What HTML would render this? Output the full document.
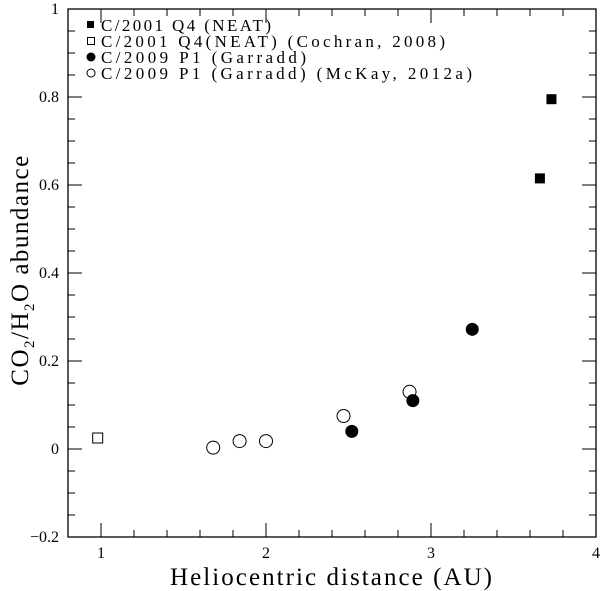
<!DOCTYPE html>
<html><head><meta charset="utf-8"><style>
body{margin:0;background:#fff;}
svg{display:block;font-family:"Liberation Serif",serif;}
</style></head><body>
<svg id="chart" width="600" height="591">
<rect x="68" y="9" width="528" height="528" fill="none" stroke="#000" stroke-width="1.3"/>
<g id="ticks"></g>
<g id="marks"></g>
<g font-size="17">
<rect x="87" y="21" width="7" height="7" fill="#000"/>
<text x="101" y="31" textLength="170" lengthAdjust="spacing">C/2001 Q4 (NEAT)</text>
<rect x="87.5" y="37.5" width="7" height="7" fill="none" stroke="#000"/>
<text x="101" y="47" textLength="344" lengthAdjust="spacing">C/2001 Q4(NEAT) (Cochran, 2008)</text>
<circle cx="91" cy="57" r="4.5" fill="#000"/>
<text x="101" y="63" textLength="205" lengthAdjust="spacing">C/2009 P1 (Garradd)</text>
<circle cx="91" cy="73" r="4" fill="none" stroke="#000"/>
<text x="101" y="79" textLength="371" lengthAdjust="spacing">C/2009 P1 (Garradd) (McKay, 2012a)</text>
</g>
<text x="170" y="585" font-size="25" textLength="322" lengthAdjust="spacing">Heliocentric distance (AU)</text>
<text transform="translate(28,270) rotate(-90)" font-size="25" text-anchor="middle" letter-spacing="1.5">CO<tspan font-size="15" dy="6">2</tspan><tspan dy="-6">/H</tspan><tspan font-size="15" dy="6">2</tspan><tspan dy="-6">O abundance</tspan></text>
</svg>
<script>
const neatX=[3.66,3.73], neatY=[0.615,0.795];
const cochranX=[0.98], cochranY=[0.025];
const garraddX=[2.52,2.89,3.25], garraddY=[0.04,0.11,0.272];
const mckayX=[1.68,1.84,2.0,2.47,2.87], mckayY=[0.003,0.018,0.018,0.075,0.13];
const xTicks=[1,2,3,4], xTickLabels=["1","2","3","4"];
const yTicks=[-0.2,0,0.2,0.4,0.6,0.8,1], yTickLabels=["\u22120.2","0","0.2","0.4","0.6","0.8","1"];
const NS="http://www.w3.org/2000/svg";
const X0=0.8,X1=4,Y0=-0.2,Y1=1,L=68,R=596,T=9,B=537;
const sx=v=>L+(v-X0)/(X1-X0)*(R-L);
const sy=v=>B-(v-Y0)/(Y1-Y0)*(B-T);
function mk(tag,a,parent){const e=document.createElementNS(NS,tag);for(const k in a)e.setAttribute(k,a[k]);parent.appendChild(e);return e;}
const tg=document.getElementById('ticks'), mg=document.getElementById('marks');
for(let i=0;i<=16;i++){const v=X0+i*0.2;const maj=Math.abs(v-Math.round(v))<1e-6;const len=maj?14:7;
 const a=mk('line',{x1:sx(v),x2:sx(v),y1:B,y2:B-len,stroke:'#000'},tg);
 const b=mk('line',{x1:sx(v),x2:sx(v),y1:T,y2:T+len,stroke:'#000'},tg);}
for(let i=0;i<=24;i++){const v=Y0+i*0.05;const maj=Math.abs(v*5-Math.round(v*5))<1e-6;const len=maj?14:7;
 const a=mk('line',{x1:L,x2:L+len,y1:sy(v),y2:sy(v),stroke:'#000'},tg);
 const b=mk('line',{x1:R,x2:R-len,y1:sy(v),y2:sy(v),stroke:'#000'},tg);}
xTicks.forEach((v,i)=>{const t=mk('text',{x:sx(v),y:B+21,'font-size':16,'text-anchor':'middle'},tg);t.textContent=xTickLabels[i];
 });
yTicks.forEach((v,i)=>{const t=mk('text',{x:L-9,y:sy(v)+5,'font-size':16,'text-anchor':'end'},tg);t.textContent=yTickLabels[i];
 });
neatX.forEach((x,i)=>{const e=mk('rect',{x:sx(x)-5,y:sy(neatY[i])-5,width:10,height:10,fill:'#000'},mg);
 });
cochranX.forEach((x,i)=>{const e=mk('rect',{x:sx(x)-5,y:sy(cochranY[i])-5,width:10,height:10,fill:'none',stroke:'#000'},mg);
 });
garraddX.forEach((x,i)=>{const e=mk('circle',{cx:sx(x),cy:sy(garraddY[i]),r:6.5,fill:'#000'},mg);
 });
mckayX.forEach((x,i)=>{const e=mk('circle',{cx:sx(x),cy:sy(mckayY[i]),r:6.5,fill:'none',stroke:'#000'},mg);
 });
</script>
</body></html>
